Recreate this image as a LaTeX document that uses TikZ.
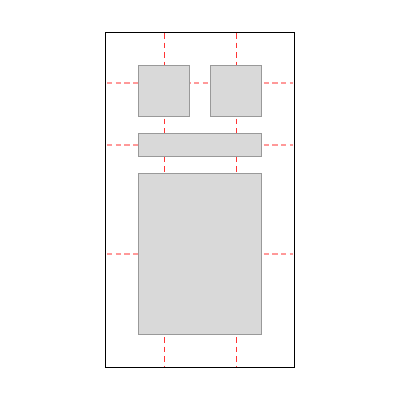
\documentclass[tikz,border=0pt]{standalone}
\begin{document}
\begin{tikzpicture}[x=1pt, y=-1pt,
  frame/.style={draw=black, line width=1pt, minimum width=188.7pt, minimum height=334.7pt, inner sep=0pt},
  guideV/.style={red!80, line width=0.9pt, dash pattern=on 5.5pt off 4pt},
  guideH/.style={red!40, line width=1.6pt, dash pattern=on 5.3pt off 3.4pt},
  panel/.style={draw=gray!80, fill=gray!30, line width=0.9pt, inner sep=0pt, anchor=north west}
]
\useasboundingbox (0,0) rectangle (400,400);
\node[frame] (F) at (199.65,199.65) {};
% Hilfslinien
\foreach \x/\n in {164.3/a, 236.3/b} {
  \coordinate (t\n) at (\x,33);
  \coordinate (u\n) at (\x,366.5);
  \draw[guideV] (t\n) -- (u\n);
}
\foreach \y/\n in {83/a, 144.8/b, 254/c} {
  \coordinate (l\n) at (107,\y);
  \coordinate (r\n) at (292.5,\y);
  \draw[guideH] (l\n) -- (r\n);
}
% Felder
\node[panel, minimum width=51pt, minimum height=51pt] (boxL) at (138.3,65.3) {};
\node[panel, minimum width=51pt, minimum height=51pt] (boxR) at (210.3,65.3) {};
\node[panel, minimum width=123pt, minimum height=23pt] (bar) at (138.3,133.3) {};
\node[panel, minimum width=123pt, minimum height=160.7pt] (main) at (138.3,173.3) {};
\end{tikzpicture}
\end{document}
